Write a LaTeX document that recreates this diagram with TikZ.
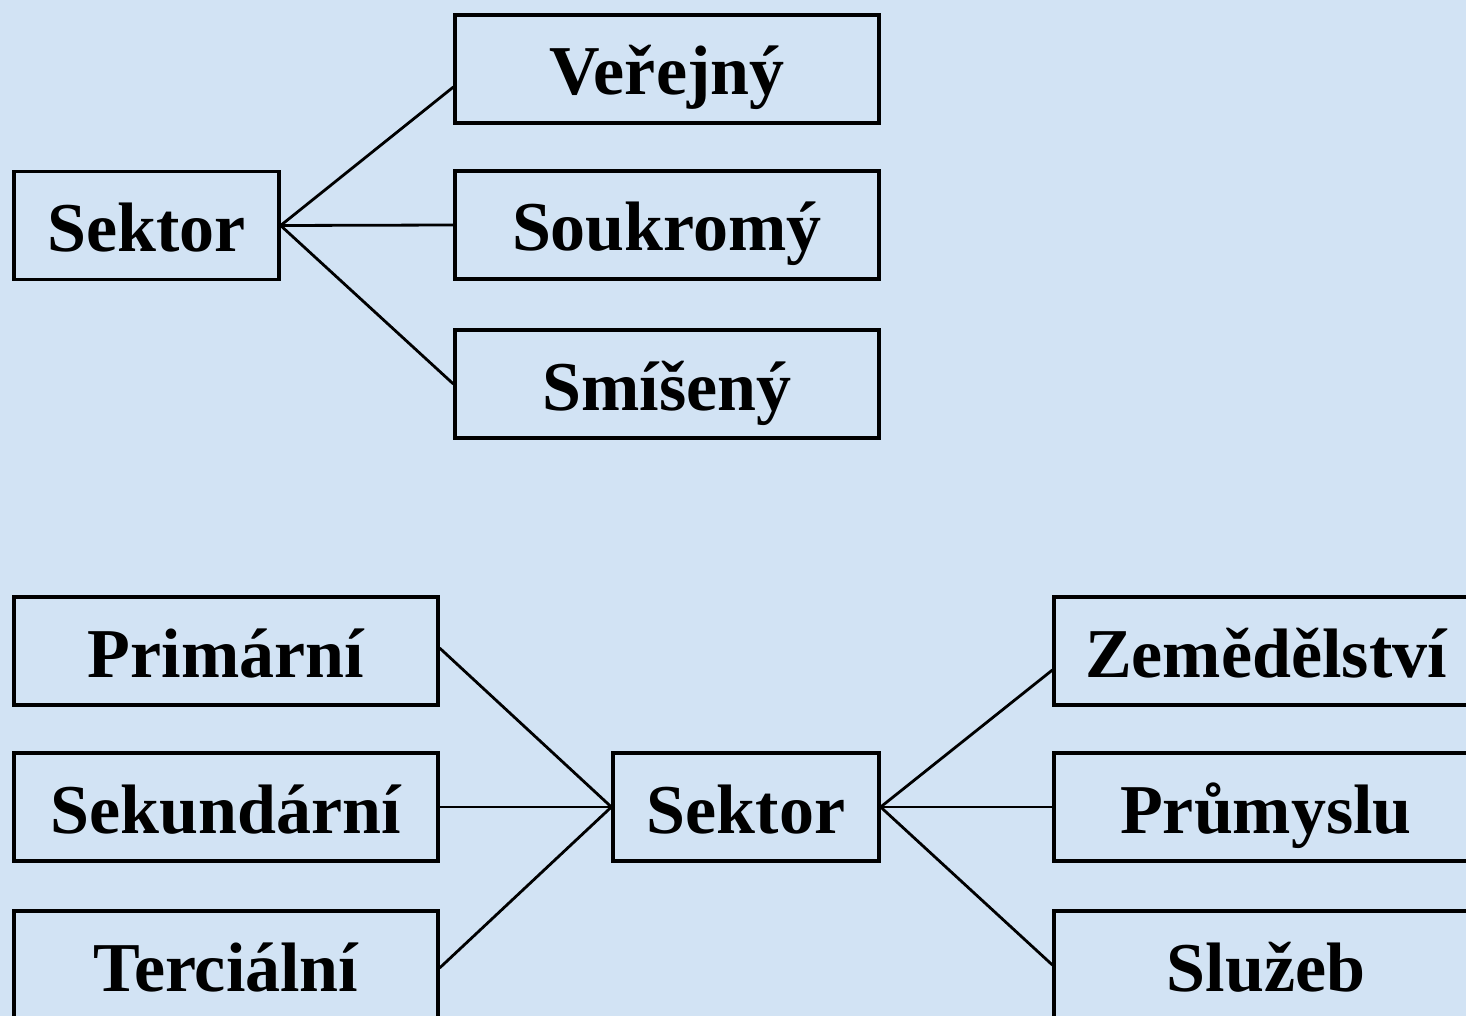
\documentclass[tikz,border=0pt]{standalone}
\usepackage{fontspec}
\setmainfont{Liberation Serif}
\definecolor{bgblue}{RGB}{210,227,244}
\begin{document}
\begin{tikzpicture}[x=1pt,y=-1pt,
  box/.style={draw=black, line width=3.2pt, minimum height=108pt, inner sep=0pt,
    font=\fontsize{70}{84}\selectfont\bfseries, text height=52pt, text depth=0pt},
  wide/.style={box, minimum width=424pt},
  narrow/.style={box, minimum width=265pt},
  link/.style={draw=black, line width=2.8pt}]
\clip (0,0) rectangle (1466,1016);
\useasboundingbox (0,0) rectangle (1466,1016);
\fill[bgblue] (0,0) rectangle (1466,1016);
% top diagram
\node[narrow] (s1) at (146.5,225.5) {Sektor};
\node[wide] (ver) at (667,69) {Veřejný};
\node[wide] (sou) at (667,225) {Soukromý};
\node[wide] (smi) at (667,384) {Smíšený};
\draw[link] (s1.east) -- ([yshift=-18pt]ver.west);
\draw[link] (s1.east) -- (sou.west);
\draw[link] (s1.east) -- (smi.west);
% bottom diagram
\node[wide] (pri) at (226,651) {Primární};
\node[wide] (sek) at (226,807) {Sekundární};
\node[wide] (ter) at (226,965) {Terciální};
\node[box, minimum width=266pt] (s2) at (746,807) {Sektor};
\node[wide] (zem) at (1266,651) {Zemědělství};
\node[wide] (pru) at (1266,807) {Průmyslu};
\node[wide] (slu) at (1266,965) {Služeb};
\draw[link] ([yshift=3pt]pri.east) -- (s2.west);
\draw[link] (sek.east) -- (s2.west);
\draw[link] ([yshift=-3pt]ter.east) -- (s2.west);
\draw[link] (s2.east) -- ([yshift=-19pt]zem.west);
\draw[link] (s2.east) -- (pru.west);
\draw[link] (s2.east) -- (slu.west);
\end{tikzpicture}
\end{document}
